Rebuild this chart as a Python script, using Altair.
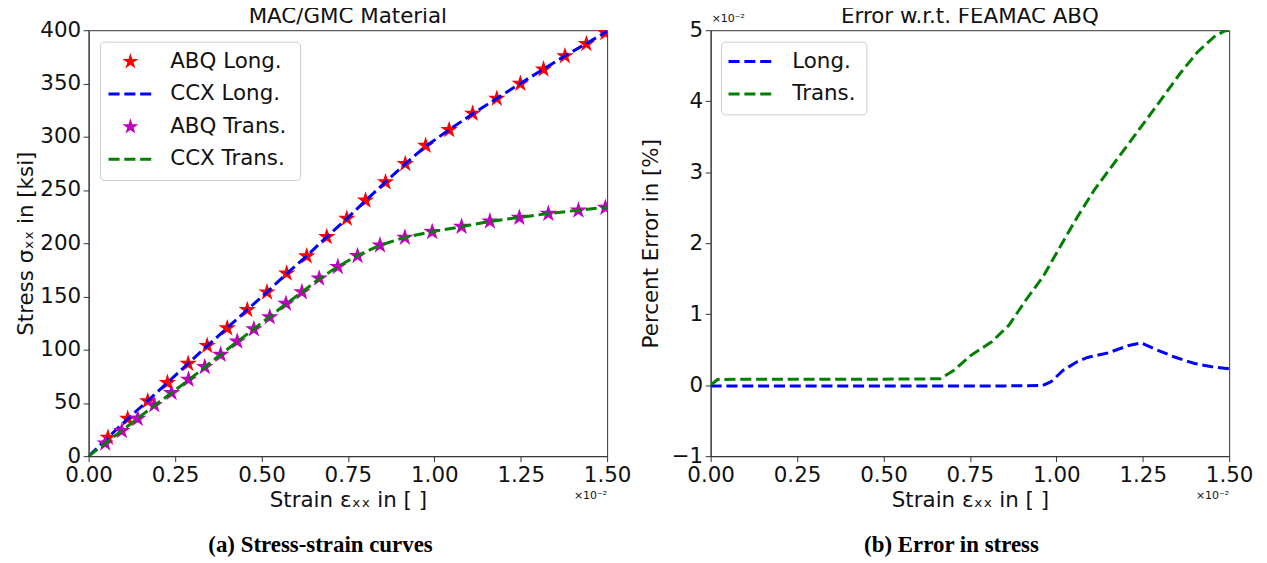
import altair as alt
import pandas as pd

# ---------------- data (strain in units of 1e-2) ----------------
# (a) Stress-strain curves
abq_long_strain = [0.056, 0.113, 0.171, 0.228, 0.288, 0.343, 0.401, 0.459, 0.516, 0.573,
                   0.631, 0.689, 0.747, 0.801, 0.859, 0.916, 0.975, 1.043, 1.111, 1.181,
                   1.249, 1.316, 1.378, 1.440, 1.495]
abq_long_stress = [17.5, 35.2, 51.7, 68.9, 86.9, 103.7, 120.2, 137.4, 153.9, 171.7,
                   187.8, 205.9, 223.1, 240.2, 257.3, 274.5, 291.6, 306.4, 321.8, 335.8,
                   349.8, 363.3, 375.7, 387.2, 397.5]

ccx_long_strain = [0.0, 0.056, 0.113, 0.171, 0.228, 0.288, 0.343, 0.401, 0.459, 0.516,
                   0.573, 0.631, 0.689, 0.747, 0.801, 0.859, 0.916, 0.975, 1.043, 1.111,
                   1.181, 1.249, 1.316, 1.378, 1.440, 1.500]
ccx_long_stress = [0.0, 17.5, 35.0, 52.0, 69.0, 87.0, 103.5, 120.5, 137.5, 154.0,
                   171.5, 188.0, 206.0, 223.0, 240.0, 257.5, 274.5, 291.0, 306.5, 321.5,
                   336.0, 350.0, 363.5, 376.0, 387.5, 399.0]

abq_trans_strain = [0.048, 0.096, 0.142, 0.190, 0.240, 0.289, 0.336, 0.382, 0.430, 0.478,
                    0.524, 0.571, 0.617, 0.667, 0.721, 0.778, 0.843, 0.915, 0.994, 1.079,
                    1.161, 1.246, 1.330, 1.417, 1.495]
abq_trans_stress = [12.1, 23.7, 35.2, 48.0, 59.5, 72.0, 83.8, 95.3, 107.8, 119.3,
                    130.6, 143.3, 154.2, 167.0, 177.9, 188.1, 198.1, 205.3, 210.6, 215.5,
                    220.6, 224.0, 227.7, 230.8, 233.4]

ccx_trans_strain = [0.0, 0.048, 0.096, 0.142, 0.190, 0.240, 0.289, 0.336, 0.382, 0.430,
                    0.478, 0.524, 0.571, 0.617, 0.667, 0.721, 0.778, 0.843, 0.915, 0.994,
                    1.079, 1.161, 1.246, 1.330, 1.417, 1.500]
ccx_trans_stress = [0.0, 12.0, 24.0, 35.5, 47.5, 59.5, 71.5, 83.5, 95.5, 107.5,
                    119.5, 131.0, 143.0, 154.0, 166.5, 178.0, 188.5, 198.0, 205.5, 210.8,
                    215.5, 220.5, 224.2, 227.8, 231.0, 233.8]

# (b) Error in stress [%] (values in units of 1e-2)
err_long_strain = [0.0, 0.10, 0.25, 0.40, 0.55, 0.70, 0.85, 0.96, 0.985, 1.02,
                   1.06, 1.09, 1.15, 1.21, 1.245, 1.28, 1.34, 1.40, 1.45, 1.50]
err_long_value = [-0.01, -0.01, -0.01, -0.01, -0.01, -0.01, -0.01, -0.005, 0.05, 0.21,
                  0.33, 0.39, 0.455, 0.56, 0.596, 0.52, 0.40, 0.305, 0.26, 0.23]

err_trans_strain = [0.0, 0.02, 0.10, 0.30, 0.50, 0.664, 0.704, 0.753, 0.813, 0.863,
                    0.912, 0.962, 1.011, 1.061, 1.110, 1.160, 1.209, 1.259, 1.309, 1.358,
                    1.408, 1.457, 1.487, 1.50]
err_trans_value = [0.0, 0.08, 0.085, 0.085, 0.085, 0.09, 0.21, 0.42, 0.61, 0.845,
                   1.20, 1.53, 1.95, 2.37, 2.75, 3.08, 3.40, 3.73, 4.06, 4.39,
                   4.69, 4.91, 4.99, 5.0]

x_ticks = [0.0, 0.25, 0.5, 0.75, 1.0, 1.25, 1.5]
left_y_ticks = [0, 50, 100, 150, 200, 250, 300, 350, 400]
right_y_ticks = [-1, 0, 1, 2, 3, 4, 5]

left_series = ["ABQ Long.", "CCX Long.", "ABQ Trans.", "CCX Trans."]
left_colors = ["#ff0000", "#0000ff", "#bf00bf", "#008000"]
right_series = ["Long.", "Trans."]
right_colors = ["#0000ff", "#008000"]
offset_label = "×10⁻²"
captions = ["(a) Stress-strain curves", "(b) Error in stress"]
titles = ["MAC/GMC Material", "Error w.r.t. FEAMAC ABQ"]

# ---------------- styling ----------------
FONT = "DejaVu Sans"
FS = 21.5
W, H = 521, 428
DASH = [11.1, 4.8]
STAR_SIZE = 340
LEG_STAR_SIZE = 290
TXT = "#111111"
# five-pointed star (unit coordinates, point up)
STAR = ("M0,-1L0.2245,-0.309L0.9511,-0.309L0.3633,0.118L0.5878,0.809L0,0.382"
        "L-0.5878,0.809L-0.3633,0.118L-0.9511,-0.309L-0.2245,-0.309Z")


def frame(strain, value):
    return pd.DataFrame({"strain": strain, "value": value})


def one(text):
    return pd.DataFrame({"t": [text]})


x_enc = alt.X("strain:Q", scale=alt.Scale(domain=[0, 1.5], nice=False),
              axis=alt.Axis(values=x_ticks, format=".2f", title="Strain εₓₓ in [ ]",
                            labelPadding=3, titlePadding=4))


def stars(strain, value, color, x=None, y=None):
    return alt.Chart(frame(strain, value)).mark_point(
        shape=STAR, filled=True, size=STAR_SIZE, opacity=1, strokeWidth=0,
        color=color, clip=True).encode(x=x or "strain:Q", y=y or "value:Q")


def dashed(strain, value, color, x=None, y=None):
    return alt.Chart(frame(strain, value)).mark_line(
        strokeWidth=3, strokeDash=DASH, color=color, clip=True).encode(
        x=x or "strain:Q", y=y or "value:Q")


def text_at(text, x, y, size=FS, align="left", baseline="middle", font=FONT, weight="normal",
            color=TXT):
    return alt.Chart(one(text)).mark_text(
        font=font, fontSize=size, fontWeight=weight, align=align, baseline=baseline,
        color=color).encode(text="t:N", x=alt.value(x), y=alt.value(y))


def legend_box(x0, x1, y0, y1):
    return alt.Chart(one("box")).mark_rect(
        fill="white", fillOpacity=0.8, stroke="#cccccc", strokeWidth=1, cornerRadius=4).encode(
        x=alt.value(x0), x2=alt.value(x1), y=alt.value(y0), y2=alt.value(y1))


def legend_star(label, color, yc):
    return alt.Chart(one(label)).mark_point(
        shape=STAR, filled=True, size=LEG_STAR_SIZE, opacity=1, strokeWidth=0,
        color=color).encode(x=alt.value(42), y=alt.value(yc))


def legend_dash(label, color, yc, x0):
    return alt.Chart(one(label)).mark_rule(
        strokeWidth=3, strokeDash=DASH, color=color).encode(
        x=alt.value(x0), x2=alt.value(x0 + 44), y=alt.value(yc))


def panel_title(text, offset):
    return alt.TitleParams(text, anchor="middle", frame="group", offset=offset,
                           font=FONT, fontSize=FS, fontWeight="normal", color=TXT)


# ---------------- left panel ----------------
y_left = alt.Y("value:Q", scale=alt.Scale(domain=[0, 400], nice=False),
               axis=alt.Axis(values=left_y_ticks, format="d", title="Stress σₓₓ in [ksi]",
                             labelPadding=2.5, titlePadding=2))

rows_l = [31.5, 64.2, 97.0, 129.7]
left = alt.layer(
    stars(abq_long_strain, abq_long_stress, left_colors[0], x=x_enc, y=y_left),
    dashed(ccx_long_strain, ccx_long_stress, left_colors[1]),
    stars(abq_trans_strain, abq_trans_stress, left_colors[2]),
    dashed(ccx_trans_strain, ccx_trans_stress, left_colors[3]),
    legend_box(12, 213, 12, 151),
    legend_star(left_series[0], left_colors[0], rows_l[0]),
    legend_dash(left_series[1], left_colors[1], rows_l[1], 20),
    legend_star(left_series[2], left_colors[2], rows_l[2]),
    legend_dash(left_series[3], left_colors[3], rows_l[3], 20),
    text_at(left_series[0], 82, rows_l[0]),
    text_at(left_series[1], 82, rows_l[1]),
    text_at(left_series[2], 82, rows_l[2]),
    text_at(left_series[3], 82, rows_l[3]),
    text_at(offset_label, W, H + 40, size=11, align="right"),
    text_at(captions[0], 233, H + 96, size=23, align="center", baseline="alphabetic",
            font="Liberation Serif", weight="bold", color="#000000"),
).properties(width=W, height=H, title=panel_title(titles[0], -8.75))

# ---------------- right panel ----------------
y_right = alt.Y("value:Q", scale=alt.Scale(domain=[-1, 5], nice=False),
                axis=alt.Axis(values=right_y_ticks, format="d", title="Percent Error in [%]",
                              labelPadding=2.5, titlePadding=9))

rows_r = [31.5, 64.2]
right = alt.layer(
    dashed(err_long_strain, err_long_value, right_colors[0], x=x_enc, y=y_right),
    dashed(err_trans_strain, err_trans_value, right_colors[1]),
    legend_box(11, 157, 12, 85),
    legend_dash(right_series[0], right_colors[0], rows_r[0], 18),
    legend_dash(right_series[1], right_colors[1], rows_r[1], 18),
    text_at(right_series[0], 82, rows_r[0]),
    text_at(right_series[1], 82, rows_r[1]),
    text_at(offset_label, W, H + 40, size=11, align="right"),
    text_at(offset_label, 1, -11, size=11, align="left"),
    text_at(captions[1], 242, H + 96, size=23, align="center", baseline="alphabetic",
            font="Liberation Serif", weight="bold", color="#000000"),
).properties(width=W, height=H, title=panel_title(titles[1], -14.5))

chart = alt.hconcat(left, right, spacing=7).properties(
    padding={"left": 7, "top": -4, "right": 5, "bottom": 0}
).configure(
    font=FONT
).configure_axis(
    labelFont=FONT, titleFont=FONT, labelFontSize=FS, titleFontSize=FS,
    titleFontWeight="normal", labelColor=TXT, titleColor=TXT,
    domainColor="#333333", tickColor="#333333", tickSize=5.5, grid=False,
    labelFlush=False,
).configure_view(
    stroke="#333333", strokeWidth=1
)

chart.save("out.html", embed_options={"renderer": "svg", "actions": False})
